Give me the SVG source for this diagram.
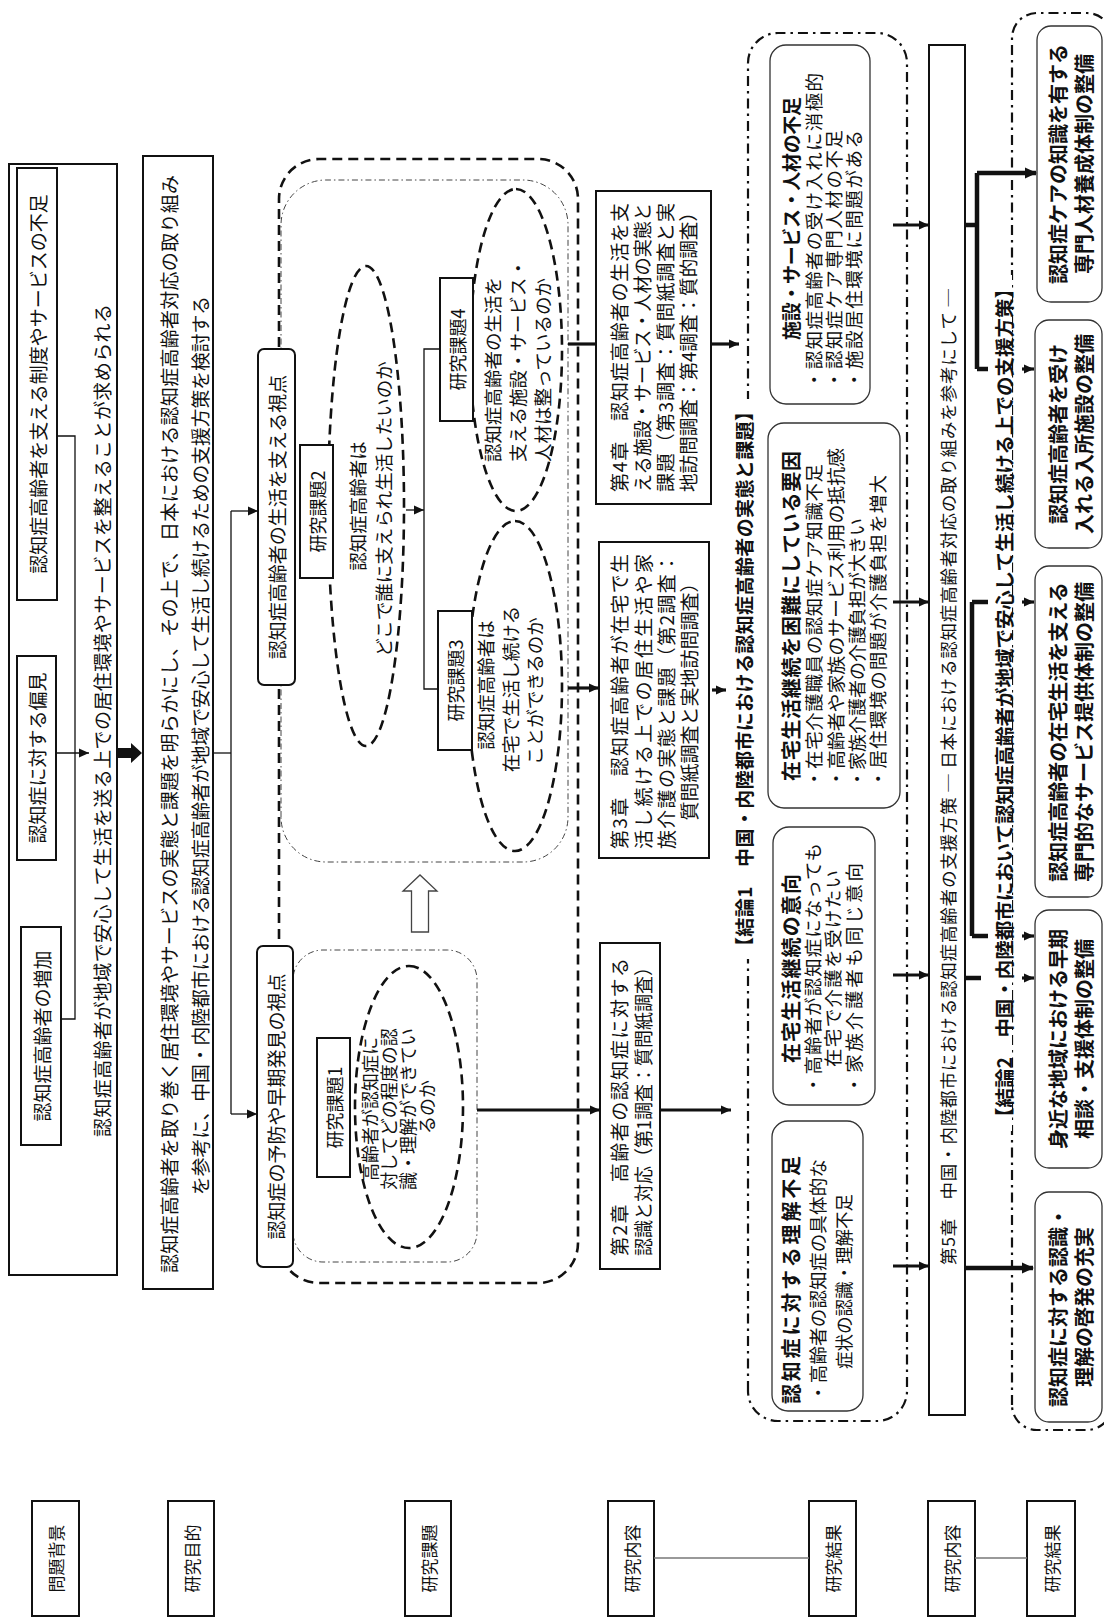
<svg xmlns="http://www.w3.org/2000/svg" width="1104" height="1619" viewBox="0 0 1104 1619">
<style>
.t{font-family:"Noto Sans CJK JP","Noto Sans CJK SC",sans-serif;dominant-baseline:central;fill:#111}
.c{text-anchor:middle}
.b{font-weight:bold}
.box{fill:#fff;stroke:#111;stroke-width:2}
.rbox{fill:#fff;stroke:#333;stroke-width:1.3}
.dash{fill:none;stroke:#111;stroke-width:2.6;stroke-dasharray:10 6}
.dd{fill:none;stroke:#444;stroke-width:1;stroke-dasharray:6 3 1.5 3}
.ddk{fill:none;stroke:#111;stroke-width:2.2;stroke-dasharray:10 5 2.5 5}
.ln{fill:none;stroke:#111;stroke-width:1.3}
.th{fill:none;stroke:#111;stroke-width:3.2}
.tk{fill:none;stroke:#111;stroke-width:4.5}
</style>
<defs>
<marker id="ah" markerUnits="userSpaceOnUse" markerWidth="10" markerHeight="10" refX="10" refY="5" orient="auto"><path d="M0,0.5 L10,5 L0,9.5 z" fill="#111"/></marker>
<marker id="ahb" markerUnits="userSpaceOnUse" markerWidth="12" markerHeight="12" refX="11" refY="6" orient="auto"><path d="M0,0.5 L12,6 L0,11.5 z" fill="#111"/></marker>
</defs>
<rect width="1104" height="1619" fill="#fff"/>
<g transform="translate(0,1619) rotate(-90)">
<!-- row labels -->
<g id="labels">
<rect class="box" x="3" y="32" width="115" height="47"/><text class="t c" x="60.5" y="55.5" font-size="17">問題背景</text>
<rect class="box" x="3" y="168" width="115" height="46"/><text class="t c" x="60.5" y="191" font-size="17">研究目的</text>
<rect class="box" x="3" y="405" width="115" height="46"/><text class="t c" x="60.5" y="428" font-size="17">研究課題</text>
<rect class="box" x="3" y="608" width="115" height="46"/><text class="t c" x="60.5" y="631" font-size="17">研究内容</text>
<rect class="box" x="3" y="809" width="115" height="47"/><text class="t c" x="60.5" y="832.5" font-size="17">研究結果</text>
<rect class="box" x="3" y="928" width="115" height="47"/><text class="t c" x="60.5" y="951.5" font-size="17">研究内容</text>
<rect class="box" x="3" y="1027" width="115" height="48"/><text class="t c" x="60.5" y="1051" font-size="17">研究結果</text>
<line x1="61" y1="654" x2="61" y2="809" stroke="#777" stroke-width="1.5"/>
<line x1="61" y1="975" x2="61" y2="1027" stroke="#777" stroke-width="1.5"/>
</g>
<!-- containers -->
<g id="containers">
<rect class="dash" x="336" y="279" width="1124" height="299" rx="40"/>
<rect class="dd" x="757" y="281" width="682" height="287" rx="45"/>
<rect class="dd" x="357" y="293" width="312" height="184" rx="30"/>
<rect class="ddk" x="198" y="748" width="1388" height="159" rx="30"/>
<rect class="ddk" x="189" y="1012" width="1417" height="100" rx="25"/>
<rect x="660" y="735" width="560" height="18" fill="#fff"/>
<rect x="488" y="994" width="856" height="18" fill="#fff"/>
</g>
<!-- problem background -->
<g id="background">
<rect class="box" x="344" y="9" width="1111" height="108"/>
<text class="t" x="482" y="101" font-size="19" textLength="833" lengthAdjust="spacing">認知症高齢者が地域で安心して生活を送る上での居住環境やサービスを整えることが求められる</text>
</g>
<g id="bg-lack"><rect class="box" x="1019" y="17" width="432" height="40" stroke-width="2.5"/><text class="t c" x="1235" y="37" font-size="19">認知症高齢者を支える制度やサービスの不足</text></g>
<g id="bg-bias"><rect class="box" x="759" y="17" width="204" height="39" stroke-width="2.5"/><text class="t c" x="861" y="36.5" font-size="19">認知症に対する偏見</text></g>
<g id="bg-increase"><rect class="box" x="474" y="21" width="218" height="40" stroke-width="2.5"/><text class="t c" x="583" y="41" font-size="19">認知症高齢者の増加</text></g>
<!-- purpose -->
<g id="purpose">
<rect class="box" x="330" y="143" width="1133" height="70"/>
<text class="t" x="346" y="168" font-size="19" textLength="1098" lengthAdjust="spacing">認知症高齢者を取り巻く居住環境やサービスの実態と課題を明らかにし、その上で、日本における認知症高齢者対応の取り組み</text>
<text class="t" x="424" y="199" font-size="19" textLength="899" lengthAdjust="spacingAndGlyphs">を参考に、中国・内陸都市における認知症高齢者が地域で安心して生活し続けるための支援方策を検討する</text>
</g>
<!-- research tasks -->
<g id="view-life"><rect class="box" x="934" y="258" width="336" height="37" rx="6" stroke-width="1.5"/><text class="t c" x="1102" y="276.5" font-size="19">認知症高齢者の生活を支える視点</text></g>
<g id="view-prevent"><rect class="box" x="352" y="257" width="321" height="36" rx="6" stroke-width="1.5"/><text class="t c" x="512.5" y="275" font-size="19">認知症の予防や早期発見の視点</text></g>
<g id="task1">
<ellipse class="dash" cx="512" cy="409" rx="141" ry="54"/>
<rect class="box" x="442" y="317" width="139" height="33" stroke-width="1.5"/><text class="t c" x="511.5" y="333.5" font-size="18">研究課題1</text>
<text class="t c" x="510" y="369" font-size="18">高齢者が認知症に</text>
<text class="t c" x="510" y="388" font-size="18">対してどの程度の認</text>
<text class="t c" x="510" y="407" font-size="18">識・理解ができてい</text>
<text class="t c" x="512" y="426" font-size="18">るのか</text>
</g>
<g id="task2">
<ellipse class="dash" cx="1113" cy="366" rx="240" ry="38"/>
<rect class="box" x="1041" y="300" width="133" height="33" stroke-width="1.5"/><text class="t c" x="1107.5" y="316.5" font-size="18">研究課題2</text>
<text class="t c" x="1113" y="357" font-size="18.5">認知症高齢者は</text>
<text class="t c" x="1110" y="383" font-size="18.5">どこで誰に支えられ生活したいのか</text>
</g>
<g id="task3">
<ellipse class="dash" cx="933" cy="515" rx="165" ry="47"/>
<rect class="box" x="869" y="438" width="139" height="34" stroke-width="1.5"/><text class="t c" x="938.5" y="455" font-size="18">研究課題3</text>
<text class="t c" x="934" y="485" font-size="18.5">認知症高齢者は</text>
<text class="t c" x="930" y="510" font-size="18.5">在宅で生活し続ける</text>
<text class="t c" x="928" y="534" font-size="18.5">ことができるのか</text>
</g>
<g id="task4">
<ellipse class="dash" cx="1269" cy="516" rx="161" ry="46"/>
<rect class="box" x="1198" y="440" width="143" height="33" stroke-width="1.5"/><text class="t c" x="1269.5" y="456.5" font-size="18">研究課題4</text>
<text class="t" x="1157" y="492" font-size="18.5">認知症高齢者の生活を</text>
<text class="t" x="1157" y="517" font-size="18.5">支える施設・サービス・</text>
<text class="t" x="1157" y="542" font-size="18.5">人材は整っているのか</text>
</g>
<!-- chapters -->
<g id="ch2">
<rect class="box" x="350" y="600" width="326" height="60"/>
<text class="t" x="363" y="618" font-size="19" textLength="298" lengthAdjust="spacing">第2章　高齢者の認知症に対する</text>
<text class="t" x="363" y="642" font-size="19" textLength="298" lengthAdjust="spacingAndGlyphs">認識と対応（第1調査：質問紙調査）</text>
</g>
<g id="ch3">
<rect class="box" x="761" y="599" width="316" height="110"/>
<text class="t" x="770" y="618" font-size="19" textLength="295" lengthAdjust="spacing">第3章　認知症高齢者が在宅で生</text>
<text class="t" x="770" y="642" font-size="19" textLength="295" lengthAdjust="spacing">活し続ける上での居住生活や家</text>
<text class="t" x="770" y="665" font-size="19" textLength="295" lengthAdjust="spacing">族介護の実態と課題（第2調査：</text>
<text class="t c" x="922" y="688" font-size="19">質問紙調査と実地訪問調査）</text>
</g>
<g id="ch4">
<rect class="box" x="1115" y="596" width="313" height="115"/>
<text class="t" x="1127" y="618" font-size="19" textLength="289" lengthAdjust="spacing">第4章　認知症高齢者の生活を支</text>
<text class="t" x="1127" y="641" font-size="19" textLength="289" lengthAdjust="spacingAndGlyphs">える施設・サービス・人材の実態と</text>
<text class="t" x="1127" y="664" font-size="19" textLength="289" lengthAdjust="spacing">課題（第3調査：質問紙調査と実</text>
<text class="t" x="1127" y="687" font-size="19" textLength="289" lengthAdjust="spacingAndGlyphs">地訪問調査：第4調査：質的調査）</text>
</g>
<!-- conclusion 1 -->
<g id="conc1-title"><text class="t b" x="663" y="743" font-size="19" textLength="554" lengthAdjust="spacing">【結論1　中国・内陸都市における認知症高齢者の実態と課題】</text></g>
<g id="c1a">
<rect class="rbox" x="208" y="772" width="290" height="91" rx="16"/>
<text class="t b" x="215" y="790" font-size="20" textLength="248" lengthAdjust="spacing">認知症に対する理解不足</text>
<text class="t" x="217" y="817" font-size="18.5" textLength="243" lengthAdjust="spacing">・高齢者の認知症の具体的な</text>
<text class="t" x="250" y="843" font-size="18.5" textLength="175" lengthAdjust="spacingAndGlyphs">症状の認識・理解不足</text>
</g>
<g id="c1b">
<rect class="rbox" x="514" y="773" width="278" height="102" rx="16"/>
<text class="t b" x="556" y="790" font-size="20" textLength="189" lengthAdjust="spacing">在宅生活継続の意向</text>
<text class="t" x="525" y="812" font-size="18.5" textLength="251" lengthAdjust="spacing">・高齢者が認知症になっても</text>
<text class="t" x="552" y="832" font-size="18.5" textLength="197" lengthAdjust="spacing">在宅で介護を受けたい</text>
<text class="t" x="525" y="853" font-size="18.5" textLength="231" lengthAdjust="spacing">・家族介護者も同じ意向</text>
</g>
<g id="c1c">
<rect class="rbox" x="811" y="768" width="385" height="132" rx="16"/>
<text class="t b" x="838" y="790" font-size="20" textLength="330" lengthAdjust="spacing">在宅生活継続を困難にしている要因</text>
<text class="t" x="831" y="813" font-size="18.5" textLength="324" lengthAdjust="spacing">・在宅介護職員の認知症ケア知識不足</text>
<text class="t" x="831" y="835" font-size="18.5" textLength="340" lengthAdjust="spacingAndGlyphs">・高齢者や家族のサービス利用の抵抗感</text>
<text class="t" x="831" y="856" font-size="18.5" textLength="270" lengthAdjust="spacingAndGlyphs">・家族介護者の介護負担が大きい</text>
<text class="t" x="831" y="877" font-size="18.5" textLength="313" lengthAdjust="spacing">・居住環境の問題が介護負担を増大</text>
</g>
<g id="c1d">
<rect class="rbox" x="1215" y="770" width="359" height="100" rx="16"/>
<text class="t b" x="1279" y="790" font-size="19" textLength="243" lengthAdjust="spacing">施設・サービス・人材の不足</text>
<text class="t" x="1230" y="813" font-size="18.5" textLength="316" lengthAdjust="spacing">・認知症高齢者の受け入れに消極的</text>
<text class="t" x="1230" y="833" font-size="18.5" textLength="259" lengthAdjust="spacing">・認知症ケア専門人材の不足</text>
<text class="t" x="1230" y="853" font-size="18.5" textLength="259" lengthAdjust="spacing">・施設居住環境に問題がある</text>
</g>
<!-- chapter 5 -->
<g id="ch5">
<rect class="box" x="204" y="929" width="1370" height="36"/>
<text class="t" x="354" y="947" font-size="17.5" textLength="976" lengthAdjust="spacing">第5章　中国・内陸都市における認知症高齢者の支援方策 ─ 日本における認知症高齢者対応の取り組みを参考にして ─</text>
</g>
<!-- conclusion 2 -->
<g id="conc2-title"><text class="t b" x="492" y="1003" font-size="19.5" textLength="848" lengthAdjust="spacing">【結論2　中国・内陸都市において認知症高齢者が地域で安心して生活し続ける上での支援方策】</text></g>
<g id="c2a"><rect class="rbox" x="1317" y="1037" width="276" height="65" rx="14"/>
<text class="t b c" x="1455" y="1057" font-size="20">認知症ケアの知識を有する</text><text class="t b c" x="1455" y="1083" font-size="20">専門人材養成体制の整備</text></g>
<g id="c2b"><rect class="rbox" x="1071" y="1035" width="228" height="67" rx="14"/>
<text class="t b c" x="1185" y="1057" font-size="20">認知症高齢者を受け</text><text class="t b c" x="1185" y="1083" font-size="20">入れる入所施設の整備</text></g>
<g id="c2c"><rect class="rbox" x="722" y="1035" width="331" height="67" rx="14"/>
<text class="t b c" x="887" y="1057" font-size="20">認知症高齢者の在宅生活を支える</text><text class="t b c" x="887" y="1083" font-size="20">専門的なサービス提供体制の整備</text></g>
<g id="c2d"><rect class="rbox" x="451" y="1035" width="258" height="67" rx="14"/>
<text class="t b c" x="580" y="1057" font-size="20">身近な地域における早期</text><text class="t b c" x="580" y="1083" font-size="20">相談・支援体制の整備</text></g>
<g id="c2e"><rect class="rbox" x="197" y="1035" width="230" height="67" rx="14"/>
<text class="t b c" x="312" y="1057" font-size="20">認知症に対する認識・</text><text class="t b c" x="312" y="1083" font-size="20">理解の啓発の充実</text></g>
<!-- connectors -->
<g id="connectors">
<polyline class="ln" points="1183,57 1183,75 600,75 600,61"/>
<line class="ln" x1="866" y1="56" x2="866" y2="89" marker-end="url(#ah)"/>
<polygon points="861,117 871,117 871,131 876,131 866,142 856,131 861,131" fill="#111"/>
<line class="ln" x1="866" y1="213" x2="866" y2="231"/>
<line class="ln" x1="505" y1="231" x2="1108" y2="231"/>
<line class="ln" x1="1108" y1="231" x2="1108" y2="258" marker-end="url(#ah)"/>
<line class="ln" x1="505" y1="231" x2="505" y2="257" marker-end="url(#ah)"/>
<polygon points="687,411.5 728,411.5 728,403 744,420 728,437 728,428.5 687,428.5" fill="#fff" stroke="#444" stroke-width="1.3"/>
<polyline class="ln" points="1270,440 1270,424 930,424 930,438"/>
<line class="ln" x1="1109" y1="406" x2="1109" y2="424" marker-end="url(#ah)"/>
<line class="th" x1="1275" y1="568" x2="1275" y2="596"/>
<line class="th" x1="1275" y1="711" x2="1275" y2="739" marker-end="url(#ah)"/>
<line class="th" x1="931" y1="568" x2="931" y2="599" marker-end="url(#ah)"/>
<line class="th" x1="929" y1="712" x2="929" y2="726" marker-end="url(#ah)"/>
<line class="th" x1="509" y1="477" x2="509" y2="600" marker-end="url(#ah)"/>
<line class="th" x1="509" y1="660" x2="509" y2="731" marker-end="url(#ah)"/>
<line class="th" x1="1394" y1="893" x2="1394" y2="929" marker-end="url(#ah)"/>
<line class="th" x1="1017" y1="893" x2="1017" y2="929" marker-end="url(#ah)"/>
<line class="th" x1="644" y1="893" x2="644" y2="929" marker-end="url(#ah)"/>
<line class="th" x1="353" y1="893" x2="353" y2="929" marker-end="url(#ah)"/>
<line class="tk" x1="1394" y1="965" x2="1394" y2="977"/>
<line class="tk" x1="1250" y1="977" x2="1446" y2="977"/>
<line class="tk" x1="1446" y1="977" x2="1446" y2="1036" marker-end="url(#ahb)"/>
<line class="tk" x1="1250" y1="977" x2="1250" y2="988"/>
<line class="th" x1="1250" y1="1022" x2="1250" y2="1034" marker-end="url(#ah)"/>
<line class="tk" x1="1017" y1="972" x2="683" y2="972"/>
<line class="tk" x1="1017" y1="972" x2="1017" y2="988"/>
<line class="th" x1="1017" y1="1022" x2="1017" y2="1034" marker-end="url(#ah)"/>
<line class="tk" x1="683" y1="972" x2="683" y2="988"/>
<line class="th" x1="683" y1="1022" x2="683" y2="1034" marker-end="url(#ah)"/>
<line class="tk" x1="641" y1="965" x2="641" y2="981"/>
<line class="th" x1="641" y1="1022" x2="641" y2="1034" marker-end="url(#ah)"/>
<line class="tk" x1="351" y1="965" x2="351" y2="1033" marker-end="url(#ahb)"/>
</g>
</g>
</svg>
